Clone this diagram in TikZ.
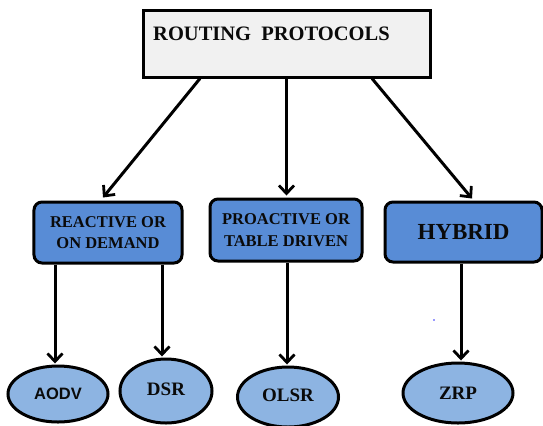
\documentclass[tikz,border=0pt]{standalone}
\usepackage{fontspec}
\setmainfont{Liberation Serif}
\newfontfamily\labelsans{Liberation Sans}
\usetikzlibrary{arrows.meta,shapes.geometric}

\definecolor{headfill}{HTML}{F1F1F1}
\definecolor{classfill}{HTML}{588CD6}
\definecolor{protofill}{HTML}{8DB4E2}
\definecolor{inktext}{HTML}{0A0A0A}

\tikzset{
  headbox/.style={draw=black, line width=3bp, fill=headfill,
    minimum width=287bp, minimum height=67bp, inner sep=0pt},
  classbox/.style={draw=black, line width=3bp, fill=classfill,
    rounded corners=8bp, inner sep=0pt, align=center,
    font=\bfseries\fontsize{16.5bp}{21.5bp}\selectfont, text=inktext},
  protonode/.style={draw=black, line width=3bp, fill=protofill,
    ellipse, inner sep=0pt, text=inktext,
    font=\bfseries\fontsize{19bp}{22bp}\selectfont},
  flow/.style={line width=3bp,
    -{Straight Barb[length=8bp,width=15bp,line width=2.8bp]}}
}

\begin{document}
\begin{tikzpicture}[x=1bp,y=-1bp]
\useasboundingbox (0,0) rectangle (543,425);

% heading box
\node[headbox] (top) at (286.5,43.5) {};
\node[anchor=west, inner sep=0pt, text=inktext,
  font=\bfseries\fontsize{20.5bp}{24bp}\selectfont] (toptext) at (153,33.5)
  {ROUTING\ \ PROTOCOLS};

% protocol classes
\node[classbox, minimum width=148bp, minimum height=61bp] (react) at (108,232.5)
  {REACTIVE OR\\ON DEMAND};
\node[classbox, minimum width=152bp, minimum height=62bp] (proact) at (286,230)
  {PROACTIVE OR\\TABLE DRIVEN};
\node[classbox, minimum width=157bp, minimum height=60bp,
  font=\bfseries\fontsize{23bp}{26bp}\selectfont] (hyb) at (463.5,232) {HYBRID};

% protocols
\node[protonode, minimum width=100bp, minimum height=56bp,
  font=\labelsans\bfseries\fontsize{16.5bp}{20bp}\selectfont] (aodv) at (58,394) {AODV};
\node[protonode, minimum width=92bp, minimum height=64bp] (dsr) at (166,391)
  {\raisebox{3bp}{DSR}};
\node[protonode, minimum width=101bp, minimum height=60bp] (olsr) at (288,397)
  {\raisebox{3bp}{OLSR}};
\node[protonode, minimum width=110bp, minimum height=60bp] (zrp) at (458,393)
  {ZRP};

% connectors from the heading
\draw[flow] ([xshift=-86.5bp]top.south) -- ([xshift=-5bp,yshift=3bp]react.north);
\draw[flow] (top.south) -- ([yshift=2bp]top.south |- proact.north);
\draw[flow] ([xshift=85.5bp]top.south) -- ([xshift=8.5bp,yshift=2bp]hyb.north);

% connectors down to the protocols
\draw[flow] ([xshift=-3bp]aodv.north |- react.south) -- ([xshift=-3bp,yshift=1bp]aodv.north);
\draw[flow] ([xshift=-4bp]dsr.north |- react.south) -- ([xshift=-4bp,yshift=1bp]dsr.north);
\draw[flow] ([xshift=-1bp]olsr.north |- proact.south) -- ([xshift=-1bp,yshift=1bp]olsr.north);
\draw[flow] ([xshift=3bp]zrp.north |- hyb.south) -- ([xshift=3bp,yshift=1bp]zrp.north);

% stray blue speck
\fill[blue!80] (434,320) circle (0.8);
\end{tikzpicture}
\end{document}
